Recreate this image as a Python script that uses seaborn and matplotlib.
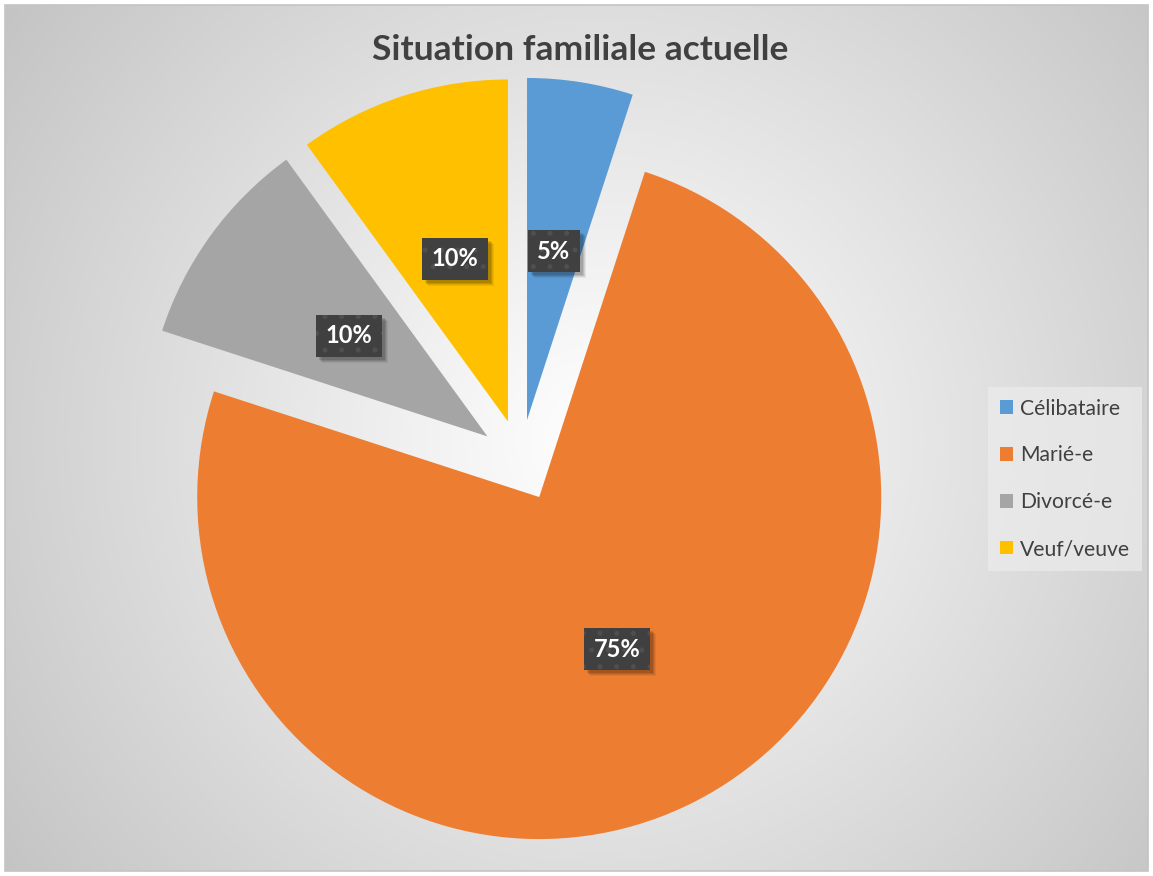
import numpy as np
import matplotlib
matplotlib.use("Agg")
import matplotlib.pyplot as plt
from matplotlib.patches import Patch, Rectangle
import seaborn as sns

# Data
categories = ["Célibataire", "Marié-e", "Divorcé-e", "Veuf/veuve"]
shares = [5, 75, 10, 10]
colors = ["#5B9BD5", "#ED7D31", "#A5A5A5", "#FFC000"]

sns.set_theme(style="white")
sns.set_palette(colors)
plt.rcParams["font.family"] = ["Lato", "DejaVu Sans"]

W, H = 1153, 876
fig = plt.figure(figsize=(W / 100, H / 100), dpi=100)
fig.patch.set_facecolor("white")

# Radial grey-to-white background of the chart area
bg = fig.add_axes([0, 0, 1, 1], zorder=-5)
bg.set_axis_off()
yy, xx = np.mgrid[0:H, 0:W]
dist = np.hypot(xx - 600, yy - 440)
t = np.clip(dist / 730.0, 0, 1) ** 1.05
shade = 1.0 - t * (1.0 - 0.77)
img = np.dstack([shade, shade, shade])
x0, y0, x1, y1 = 5, 5, 1148, 871
bg.imshow(img[y0:y1, x0:x1], extent=(x0, x1, H - y1, H - y0), origin="upper",
          interpolation="bilinear")
bg.set_xlim(0, W)
bg.set_ylim(0, H)
bg.add_patch(Rectangle((x0, H - y1), x1 - x0, y1 - y0, fill=False,
                       ec="#c4c4c4", lw=1.2))

# Pie axes: one data unit equals the pie radius in pixels
r = 342.0
cx, cy = 520.6, H - 460.5
span = 1.5
ax = fig.add_axes([(cx - span * r) / W, (cy - span * r) / H,
                   2 * span * r / W, 2 * span * r / H])
ax.set_facecolor("none")

label_size = 17
wedges, _, autotexts = ax.pie(
    shares,
    colors=colors,
    startangle=90,
    counterclock=False,
    explode=[0.12] * 4,
    autopct=lambda p: f"{p:.0f}%",
    pctdistance=0.5,
    wedgeprops=dict(linewidth=0),
    textprops=dict(color="white", fontsize=label_size, fontweight="bold", zorder=5),
)
ax.set_xlim(-span, span)
ax.set_ylim(-span, span)
ax.set_aspect("equal")
ax.set_axis_off()

plt.rcParams["hatch.linewidth"] = 1.2
for txt in autotexts:
    txt.set_bbox(dict(boxstyle="square,pad=0.4", fc="#404040", ec="#4f4f4f",
                      lw=0, hatch="."))

fig.text(580 / W, 1 - 50 / H, "Situation familiale actuelle", ha="center", va="center",
         fontsize=25.5, fontweight="bold", color="#404040")

handles = [Patch(facecolor=c, edgecolor="none") for c in colors]
leg = fig.legend(handles, categories, loc="upper left",
                 bbox_to_anchor=(988 / W, 1 - 387 / H), borderaxespad=0,
                 frameon=True, fontsize=15.2, labelspacing=1.27,
                 handlelength=0.62, handleheight=0.62, handletextpad=0.35,
                 borderpad=0.55, fancybox=False)
leg.get_frame().set_facecolor("#ececec")
leg.get_frame().set_alpha(0.7)
leg.get_frame().set_edgecolor("none")
for t_ in leg.get_texts():
    t_.set_color("#404040")

# Soft drop shadows under the value boxes, placed from the rendered box extents
fig.canvas.draw()
for txt in autotexts:
    ext = txt.get_bbox_patch().get_window_extent()
    for dx, dy, a in [(6, -6, 0.06), (5, -5, 0.08), (4, -4, 0.10), (3, -3, 0.12)]:
        ax.add_patch(Rectangle((ext.x0 + dx, ext.y0 + dy), ext.width, ext.height,
                               transform=None, fc=(0, 0, 0, a), ec="none", zorder=4))

fig.savefig("out.png", dpi=100)
